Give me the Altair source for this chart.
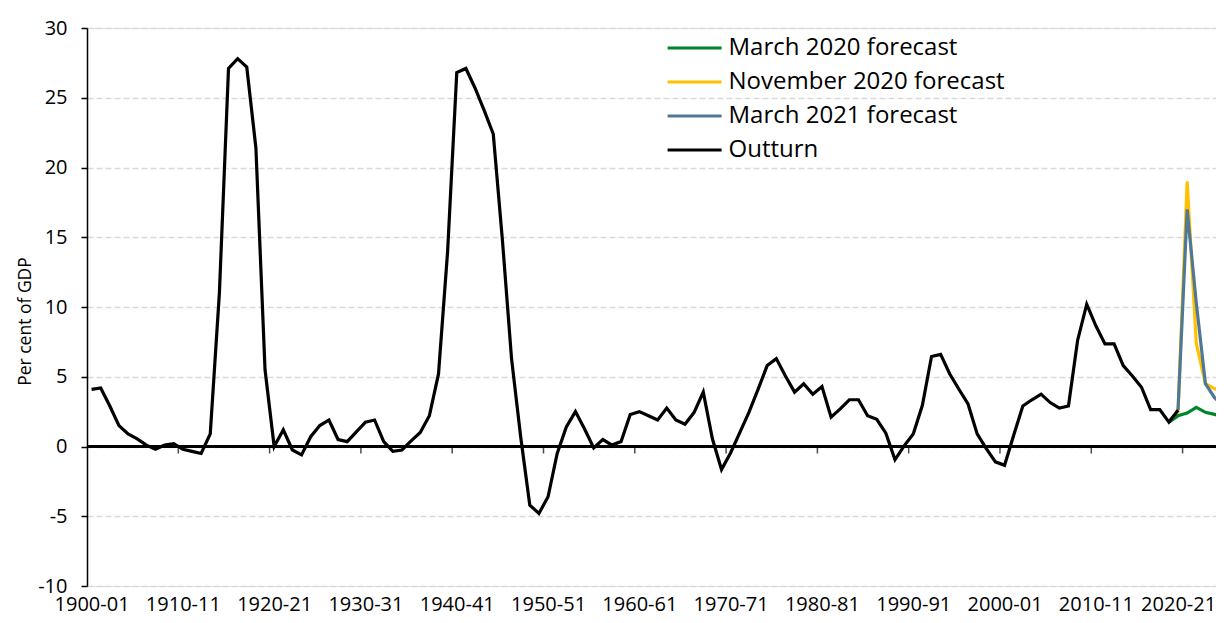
import altair as alt
import pandas as pd

# ---------------- data ----------------
OUTTURN_START = 1900
OUTTURN = [
    4.1, 4.2, 2.9, 1.5, 0.9, 0.55, 0.1, -0.2, 0.1, 0.2,          # 1900-1909
    -0.2, -0.35, -0.5, 0.9, 11.0, 27.1, 27.8, 27.2, 21.4, 5.5,   # 1910-1919
    0.0, 1.2, -0.25, -0.6, 0.7, 1.5, 1.9, 0.5, 0.35, 1.05,       # 1920-1929
    1.75, 1.9, 0.35, -0.35, -0.25, 0.4, 1.0, 2.2, 5.2, 14.0,     # 1930-1939
    26.8, 27.1, 25.7, 24.1, 22.4, 14.8, 6.3, 0.7, -4.2, -4.8,    # 1940-1949
    -3.6, -0.5, 1.4, 2.5, 1.25, -0.1, 0.5, 0.1, 0.35, 2.3,       # 1950-1959
    2.5, 2.2, 1.9, 2.75, 1.9, 1.6, 2.45, 3.9, 0.55, -1.65,       # 1960-1969
    -0.45, 1.0, 2.45, 4.1, 5.8, 6.3, 5.05, 3.9, 4.5, 3.75,       # 1970-1979
    4.3, 2.1, 2.7, 3.35, 3.35, 2.2, 1.95, 0.95, -0.95, 0.05,     # 1980-1989
    0.9, 2.95, 6.45, 6.6, 5.2, 4.1, 3.05, 0.9, -0.15, -1.1,      # 1990-1999
    -1.35, 0.8, 2.9, 3.35, 3.75, 3.15, 2.75, 2.9, 7.6, 10.2,     # 2000-2009
    8.65, 7.35, 7.35, 5.8, 5.05, 4.25, 2.65, 2.65, 1.75, 2.6,    # 2010-2019
]

MAR2020_START = 2018
MAR2020 = [1.75, 2.2, 2.4, 2.8, 2.45, 2.3, 2.15]

NOV2020_START = 2018
NOV2020 = [1.75, 2.5, 19.0, 7.4, 4.5, 4.15, 3.9]

MAR2021_START = 2019
MAR2021 = [2.6, 17.0, 10.3, 4.5, 3.5, 2.9]

SERIES = ["March 2020 forecast", "November 2020 forecast", "March 2021 forecast", "Outturn"]
COLORS = ["#00862A", "#FFC000", "#4F7897", "#000000"]
DRAW_ORDER = ["November 2020 forecast", "March 2020 forecast", "March 2021 forecast", "Outturn"]

LABEL_YEARS = [1900, 1910, 1920, 1930, 1940, 1950, 1960, 1970, 1980, 1990, 2000, 2010, 2020]
LABEL_TEXT = ["1900-01", "1910-11", "1920-21", "1930-31", "1940-41", "1950-51", "1960-61",
              "1970-71", "1980-81", "1990-91", "2000-01", "2010-11", "2020-21"]
TICK_YEARS = LABEL_YEARS[1:]
Y_TICKS = [-10, -5, 0, 5, 10, 15, 20, 25, 30]

# ---------------- build table ----------------
rows = []
for name, start, vals in [
    ("Outturn", OUTTURN_START, OUTTURN),
    ("March 2020 forecast", MAR2020_START, MAR2020),
    ("November 2020 forecast", NOV2020_START, NOV2020),
    ("March 2021 forecast", MAR2021_START, MAR2021),
]:
    for i, v in enumerate(vals):
        rows.append({"series": name, "year": start + i, "value": v})
df = pd.DataFrame(rows)
ticks_df = pd.DataFrame({"year": TICK_YEARS})

FONT = "Open Sans"
x_scale = alt.Scale(domain=[1899.5, 2023.16], nice=False, zero=False)
y_scale = alt.Scale(domain=[-10, 30], nice=False, zero=False)

label_expr = "[" + ",".join(f"'{t}'" for t in LABEL_TEXT) + "][indexof([" + \
    ",".join(str(y) for y in LABEL_YEARS) + "], datum.value)]"

x_axis = alt.Axis(values=LABEL_YEARS, labelExpr=label_expr, ticks=False, tickSize=0,
                  domain=False, grid=False, title=None, labelFontSize=20,
                  labelColor="#000000", labelPadding=24, labelBaseline="alphabetic",
                  labelOffset={"condition": {"test": f"datum.value === {LABEL_YEARS[-1]}",
                                             "value": -9}, "value": 0},
                  labelFlush=False, labelOverlap=False, labelFont=FONT)
x_enc = alt.X("year:Q", scale=x_scale, axis=x_axis)
y_enc = alt.Y(
    "value:Q", scale=y_scale,
    axis=alt.Axis(values=Y_TICKS, labelExpr="'' + datum.value", grid=True,
                  gridDash=[6, 3], gridColor="#d9d9d9",
                  gridWidth=1.5, domainColor="#000000", domainWidth=1.5,
                  tickColor="#000000", tickSize=6, tickWidth=1.5, labelPadding=14,
                  labelFontSize=20, labelColor="#000000", labelFont=FONT,
                  title="Per cent of GDP", titleFontSize=17.5, titleFontWeight="normal",
                  titleColor="#000000", titleFont=FONT, titleX=-62, titleY=293,
                  titleAngle=270, titleAlign="center", titleBaseline="middle"),
)
color_enc = alt.Color(
    "series:N",
    scale=alt.Scale(domain=SERIES, range=COLORS),
    legend=alt.Legend(orient="none", legendX=574, legendY=8, title=None,
                      symbolType="M-1,0H9", symbolSize=116.64, symbolStrokeWidth=3,
                      labelOffset=43.5, labelFontSize=24, labelFont=FONT,
                      labelColor="#000000", rowPadding=10, padding=0, labelLimit=500),
)

base = alt.Chart(df)

zero_rule = alt.Chart(df).mark_rule(color="#000000", strokeWidth=1.5).encode(
    y=alt.datum(0, scale=y_scale)
)

tick_marks = alt.Chart(ticks_df).transform_calculate(
    boundary="datum.year - 0.5"
).mark_tick(color="#000000", thickness=1.5, size=7, yOffset=3.5, orient="vertical").encode(
    x=alt.X("boundary:Q", scale=x_scale, axis=x_axis),
    y=alt.datum(0),
)

line_layers = []
for name in DRAW_ORDER:
    line_layers.append(
        base.transform_filter(alt.datum.series == name)
        .mark_line(strokeWidth=3.2, clip=True, strokeJoin="miter")
        .encode(x=x_enc, y=y_enc, color=color_enc)
    )

chart = alt.layer(zero_rule, tick_marks, *line_layers).properties(
    width=1129,
    height=558,
    autosize=alt.AutoSizeParams(type="none"),
    padding={"left": 79, "top": 20, "right": 0, "bottom": 29},
).configure_view(stroke=None).configure(font=FONT)

chart.save("out.html", embed_options={"renderer": "svg", "actions": False})
